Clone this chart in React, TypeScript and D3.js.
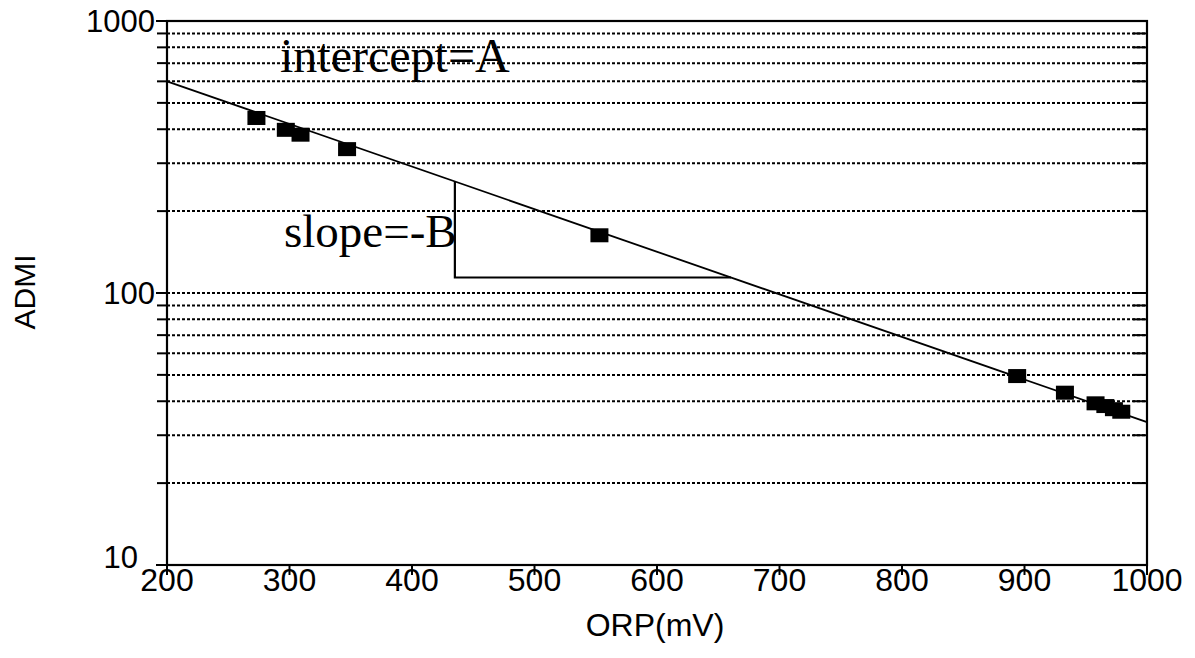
import React from "react";
import * as d3 from "d3";

const orp: number[] = [273, 297, 309, 347, 553, 894, 933, 958, 966, 973, 979];
const admi: number[] = [440, 398, 382, 338, 163, 49.5, 43, 39.3, 38.4, 37.4, 36.6];
const fitX: number[] = [200, 1000];
const fitY: number[] = [600, 33.5];
const xTicks: number[] = [200, 300, 400, 500, 600, 700, 800, 900, 1000];
const yMajor: number[] = [10, 100, 1000];
const yMajorLabels: string[] = ["10", "100", "1000"];
const yGrid: number[] = [20, 30, 40, 50, 60, 70, 80, 90, 100, 200, 300, 400, 500, 600, 700, 800, 900];
const triX = 435;
const triY = 114;

const W = 1195, H = 658;
const L = 167, R = 1147, T = 21, B = 565;

export default function App() {
  const x = d3.scaleLinear().domain([200, 1000]).range([L, R]);
  const y = d3.scaleLog().domain([10, 1000]).range([B, T]);
  const lx0 = fitX[0], lx1 = fitX[1];
  const ly0 = Math.log10(fitY[0]), ly1 = Math.log10(fitY[1]);
  const fit = (v: number) => Math.pow(10, ly0 + (ly1 - ly0) * (v - lx0) / (lx1 - lx0));
  const fitInv = (val: number) => lx0 + (Math.log10(val) - ly0) / (ly1 - ly0) * (lx1 - lx0);
  const line = d3.line<[number, number]>().x(d => x(d[0])).y(d => y(d[1]));
  const fitPts: [number, number][] = [[fitX[0], fitY[0]], [fitX[1], fitY[1]]];
  const triPts: [number, number][] = [[triX, fit(triX)], [triX, triY], [fitInv(triY), triY]];
  const sans = "'Liberation Sans', Arial, sans-serif";
  const serif = "'Liberation Serif', 'Times New Roman', serif";
  return (
    <svg width={W} height={H} style={{ position: "absolute", left: 0, top: 0, background: "#fff" }}>
      <rect x={0} y={0} width={W} height={H} fill="#fff" />
      {yGrid.map(v => (
        <g key={"g" + v}>
          <line x1={L} x2={R} y1={y(v)} y2={y(v)} stroke="#000" strokeWidth={2} strokeDasharray="3 2" />
          <line x1={L - 10} x2={L} y1={y(v)} y2={y(v)} stroke="#000" strokeWidth={2} />
          <line x1={R - 14} x2={R} y1={y(v)} y2={y(v)} stroke="#000" strokeWidth={2} />
        </g>
      ))}
      {yMajor.map((v, i) => (
        <g key={"m" + v}>
          <line x1={L - 11} x2={L} y1={y(v)} y2={y(v)} stroke="#000" strokeWidth={2} />
          <text x={v === 10 ? L - 29 : L - 12} y={y(v) - (v === 10 ? 8 : 0)} dy="0.36em" textAnchor="end" fontFamily={sans} fontSize={31} fill="#000">{yMajorLabels[i]}</text>
        </g>
      ))}
      {xTicks.map(v => (
        <g key={"x" + v}>
          <line x1={x(v)} x2={x(v)} y1={B} y2={B + 10} stroke="#000" strokeWidth={2} />
          <text x={x(v)} y={B + 26} textAnchor="middle" fontFamily={sans} fontSize={32} fill="#000">{v}</text>
        </g>
      ))}
      <rect x={L} y={T} width={R - L} height={B - T} fill="none" stroke="#000" strokeWidth={2.2} />
      <path d={line(fitPts) || ""} fill="none" stroke="#000" strokeWidth={1.8} />
      <path d={line(triPts) || ""} fill="none" stroke="#000" strokeWidth={2.2} />
      {orp.map((v, i) => (
        <rect key={"p" + i} x={x(v) - 9} y={y(admi[i]) - 7} width={18} height={14} fill="#000" />
      ))}
      <text x={280} y={72} fontFamily={serif} fontSize={48} fill="#000">intercept=A</text>
      <text x={284} y={247} fontFamily={serif} fontSize={47} fill="#000">slope=-B</text>
      <text x={655} y={636} textAnchor="middle" fontFamily={sans} fontSize={32} fill="#000">ORP(mV)</text>
      <text transform={`translate(35,292) rotate(-90)`} textAnchor="middle" fontFamily={sans} fontSize={30} fill="#000">ADMI</text>
    </svg>
  );
}
